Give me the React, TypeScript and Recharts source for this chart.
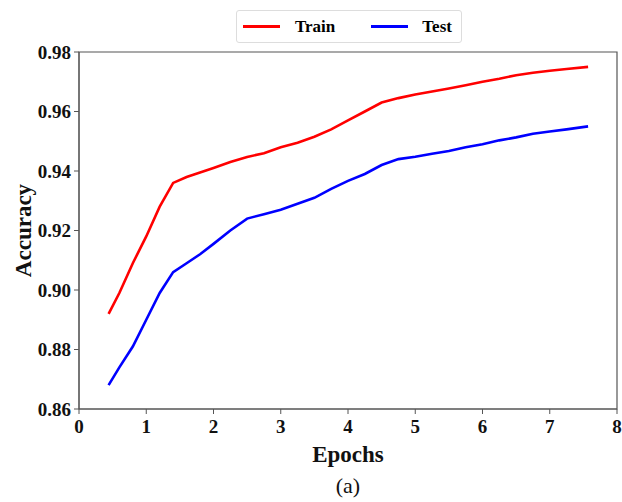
import { Legend, Line, LineChart, ReferenceArea, XAxis, YAxis } from 'recharts'

const epochs = [0.44, 0.6, 0.8, 1.0, 1.2, 1.4, 1.6, 1.8, 2.0, 2.25, 2.5, 2.75, 3.0, 3.25, 3.5, 3.75, 4.0, 4.25, 4.5, 4.75, 5.0, 5.25, 5.5, 5.75, 6.0, 6.25, 6.5, 6.75, 7.0, 7.25, 7.57]
const train = [0.892, 0.899, 0.909, 0.918, 0.928, 0.936, 0.938, 0.9395, 0.941, 0.943, 0.9447, 0.946, 0.948, 0.9495, 0.9515, 0.954, 0.957, 0.96, 0.963, 0.9645, 0.9657, 0.9667, 0.9677, 0.9688, 0.97, 0.971, 0.9722, 0.973, 0.9737, 0.9743, 0.975]
const test = [0.868, 0.874, 0.881, 0.89, 0.899, 0.906, 0.909, 0.912, 0.9155, 0.92, 0.924, 0.9255, 0.927, 0.929, 0.931, 0.934, 0.9367, 0.939, 0.942, 0.944, 0.9448, 0.9458, 0.9467, 0.948, 0.949, 0.9503, 0.9513, 0.9525, 0.9533, 0.954, 0.955]
const seriesOrder = ['Train', 'Test']
const xTicks = [0, 1, 2, 3, 4, 5, 6, 7, 8]
const yTicks = [0.86, 0.88, 0.9, 0.92, 0.94, 0.96, 0.98]

const data = epochs.map((epoch, i) => ({ epoch, train: train[i], test: test[i] }))

const serif = '"Liberation Serif", "Times New Roman", serif'
const axisColor = '#555'

function LegendBox({ payload }: any) {
  const items = [...(payload || [])].sort(
    (a: any, b: any) => seriesOrder.indexOf(a.value) - seriesOrder.indexOf(b.value),
  )
  return (
    <div
      style={{
        display: 'flex',
        alignItems: 'center',
        height: 33,
        border: '1px solid #ddd',
        borderRadius: 3,
        background: '#fff',
        boxSizing: 'border-box',
        fontFamily: serif,
        fontWeight: 'bold',
        fontSize: 17,
      }}
    >
      {items.map((item: any, i: number) => (
        <div key={item.value} style={{ display: 'flex', alignItems: 'center', marginLeft: i === 0 ? 6 : 36 }}>
          <span style={{ display: 'inline-block', width: 37, height: 3, background: item.color }} />
          <span style={{ marginLeft: i === 0 ? 15 : 14 }}>{item.value}</span>
        </div>
      ))}
    </div>
  )
}

export default function App() {
  return (
    <div style={{ position: 'absolute', left: 0, top: 0, width: 622, height: 502, background: '#fff' }}>
      <LineChart width={622} height={502} data={data} margin={{ top: 52, right: 5, left: 19, bottom: 63 }}>
        <ReferenceArea x1={0} x2={8} y1={0.86} y2={0.98} fill="none" stroke={axisColor} strokeWidth={1.2} />
        <XAxis
          dataKey="epoch"
          type="number"
          domain={[0, 8]}
          ticks={xTicks}
          height={30}
          tickSize={5}
          tickMargin={6}
          stroke={axisColor}
          tick={{ fill: '#111', fontFamily: serif, fontWeight: 'bold', fontSize: 19 }}
          label={{
            content: ({ viewBox }: any) => (
              <g>
                <text
                  x={viewBox.x + viewBox.width / 2}
                  y={viewBox.y + 53}
                  textAnchor="middle"
                  fontFamily={serif}
                  fontWeight="bold"
                  fontSize={23}
                  fill="#111"
                >
                  Epochs
                </text>
                <text
                  x={viewBox.x + viewBox.width / 2}
                  y={viewBox.y + 84}
                  textAnchor="middle"
                  fontFamily={serif}
                  fontSize={22}
                  fill="#111"
                >
                  (a)
                </text>
              </g>
            ),
          }}
        />
        <YAxis
          type="number"
          domain={[0.86, 0.98]}
          ticks={yTicks}
          width={60}
          tickSize={5}
          tickMargin={3}
          stroke={axisColor}
          tickFormatter={(v: number) => v.toFixed(2)}
          tick={{ fill: '#111', fontFamily: serif, fontWeight: 'bold', fontSize: 19 }}
          label={{
            content: ({ viewBox }: any) => {
              const cx = viewBox.x + 4
              const cy = viewBox.y + viewBox.height / 2
              return (
                <text
                  x={cx}
                  y={cy}
                  transform={`rotate(-90 ${cx} ${cy})`}
                  textAnchor="middle"
                  dominantBaseline="central"
                  fontFamily={serif}
                  fontWeight="bold"
                  fontSize={23}
                  fill="#111"
                >
                  Accuracy
                </text>
              )
            },
          }}
        />
        <Legend
          verticalAlign="middle"
          align="center"
          layout="horizontal"
          content={<LegendBox />}
          wrapperStyle={{ top: 10, left: 236, width: 226 }}
        />
        <Line dataKey="train" name="Train" stroke="#ff0000" strokeWidth={2.6} dot={false} isAnimationActive={false} />
        <Line dataKey="test" name="Test" stroke="#0000ff" strokeWidth={2.6} dot={false} isAnimationActive={false} />
      </LineChart>
    </div>
  )
}
